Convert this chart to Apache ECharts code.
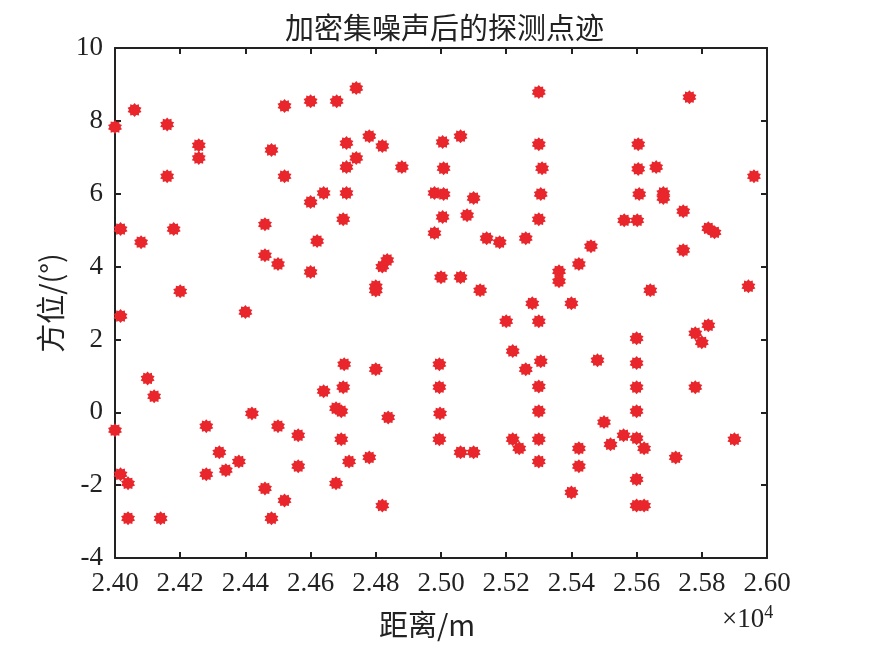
<!DOCTYPE html>
<html>
<head>
<meta charset="utf-8">
<script src="https://cdn.jsdelivr.net/npm/echarts@6/dist/echarts.min.js"></script>
<style>
html, body { margin: 0; padding: 0; background: #fff; }
#main { width: 889px; height: 666px; }
</style>
</head>
<body>
<div id="main"></div>
<script>
// 距离 (m)
var ranges = [
	24000, 24060, 24160, 24257, 24257, 24160, 24017, 24080, 24180, 24200,
	24520, 24600, 24480, 24520, 24640, 24600, 24460, 24620, 24460, 24500,
	24600, 24400, 24017, 24100, 24120, 24000, 24280, 24420, 24500, 24562,
	24640, 24320, 24340, 24380, 24280, 24562, 24017, 24040, 24040, 24140,
	24460, 24520, 24480, 24740, 24680, 24780, 24710, 24820, 24740, 24710,
	24880, 24710, 24700, 24820, 24835, 24800, 24800, 25005, 25060, 25008,
	24980, 25008, 25100, 25005, 25080, 24980, 25140, 25180, 25260, 25300,
	25300, 25310, 25306, 25300, 25000, 25060, 25120, 25280, 25200, 25300,
	25220, 25306, 25260, 25300, 25300, 25220, 25240, 25300, 25300, 24995,
	24995, 24997, 24995, 25060, 25100, 24703, 24800, 24700, 24678, 24694,
	24838, 24694, 24718, 24780, 24678, 24820, 25762, 25605, 25605, 25660,
	25608, 25682, 25682, 25562, 25602, 25743, 25820, 25839, 25960, 25460,
	25423, 25362, 25362, 25743, 25642, 25943, 25400, 25820, 25780, 25800,
	25600, 25480, 25600, 25600, 25780, 25600, 25500, 25560, 25520, 25600,
	25623, 25423, 25423, 25720, 25900, 25600, 25400, 25600, 25623
];
// 方位 (°)
var bearings = [
	7.83, 8.30, 7.90, 7.33, 6.98, 6.48, 5.03, 4.67, 5.03, 3.32,
	8.41, 8.54, 7.20, 6.48, 6.02, 5.77, 5.16, 4.70, 4.31, 4.07,
	3.85, 2.75, 2.64, 0.93, 0.44, -0.49, -0.38, -0.03, -0.38, -0.63,
	0.58, -1.10, -1.59, -1.35, -1.70, -1.48, -1.70, -1.95, -2.91, -2.91,
	-2.09, -2.42, -2.91, 8.90, 8.54, 7.58, 7.39, 7.31, 6.98, 6.73,
	6.73, 6.02, 5.30, 4.00, 4.18, 3.46, 3.34, 7.42, 7.58, 6.70,
	6.02, 5.99, 5.88, 5.36, 5.41, 4.92, 4.78, 4.67, 4.78, 8.79,
	7.36, 6.70, 5.99, 5.30, 3.71, 3.71, 3.35, 2.99, 2.50, 2.50,
	1.68, 1.40, 1.18, 0.71, 0.03, -0.74, -0.99, -0.74, -1.35, 1.32,
	0.69, -0.03, -0.74, -1.10, -1.10, 1.32, 1.18, 0.69, 0.11, 0.03,
	-0.14, -0.74, -1.35, -1.24, -1.95, -2.56, 8.65, 7.36, 6.68, 6.73,
	5.99, 6.02, 5.88, 5.27, 5.27, 5.52, 5.05, 4.94, 6.48, 4.56,
	4.07, 3.87, 3.60, 4.45, 3.35, 3.46, 2.99, 2.39, 2.17, 1.92,
	2.03, 1.43, 1.35, 0.69, 0.69, 0.03, -0.27, -0.63, -0.88, -0.71,
	-0.99, -0.99, -1.48, -1.24, -0.74, -1.84, -2.20, -2.56, -2.56
];
var xTicks = { min: 24000, max: 26000, step: 200 };
var yTicks = { min: -4, max: 10, step: 2 };

var points = [];
for (var i = 0; i < ranges.length; i++) {
	points.push([ranges[i], bearings[i]]);
}

// 星号标记 (MATLAB '*')
function starPath(n, inner) {
	var d = '';
	for (var k = 0; k < n * 2; k++) {
		var r = (k % 2 === 0) ? 1 : inner;
		var a = Math.PI * k / n;
		d += (k === 0 ? 'M' : 'L') + (r * Math.sin(a)).toFixed(3) + ' ' + (-r * Math.cos(a)).toFixed(3);
	}
	return 'path://' + d + 'Z';
}

var serif = 'Liberation Serif';
var cjk = 'Noto Sans CJK SC';
var lineStyle = { color: '#222', width: 2 };

function xAxis(pos, show) {
	return {
		type: 'value', position: pos,
		min: xTicks.min, max: xTicks.max, interval: xTicks.step,
		axisLine: { show: true, onZero: false, lineStyle: lineStyle },
		axisTick: { inside: true, length: 6, lineStyle: lineStyle },
		axisLabel: {
			show: show, margin: 12, color: '#222', fontFamily: serif, fontSize: 27,
			formatter: function (v) { return (v / 10000).toFixed(2); }
		},
		splitLine: { show: false }
	};
}
function yAxis(pos, show) {
	return {
		type: 'value', position: pos,
		min: yTicks.min, max: yTicks.max, interval: yTicks.step,
		axisLine: { show: true, onZero: false, lineStyle: lineStyle },
		axisTick: { inside: true, length: 6, lineStyle: lineStyle },
		axisLabel: { show: show, margin: 12, color: '#222', fontFamily: serif, fontSize: 27 },
		splitLine: { show: false }
	};
}

var xa = xAxis('bottom', true);
xa.name = '距离/m';
xa.nameLocation = 'middle';
xa.nameGap = 52;
xa.nameTextStyle = { color: '#222', fontFamily: cjk, fontSize: 29, padding: [0, 28, 0, 0] };
var ya = yAxis('left', true);
ya.name = '方位/(°)';
ya.nameLocation = 'middle';
ya.nameGap = 46;
ya.nameTextStyle = { color: '#222', fontFamily: cjk, fontSize: 29 };

var chart = echarts.init(document.getElementById('main'));
chart.setOption({
	backgroundColor: '#fff',
	animation: false,
	title: {
		text: '加密集噪声后的探测点迹',
		left: 'center', top: 8,
		textStyle: { color: '#222', fontFamily: cjk, fontSize: 29, fontWeight: 'normal' }
	},
	grid: { left: 115, right: 122, top: 48, bottom: 108 },
	xAxis: [xa, xAxis('top', false)],
	yAxis: [ya, yAxis('right', false)],
	graphic: [{
		type: 'text', left: 722, top: 604,
		style: {
			text: '×10{s|4}', fill: '#222', font: '27px "Liberation Serif"',
			rich: { s: { fontSize: 18, fontFamily: serif, fill: '#222', verticalAlign: 'top', padding: [0, 0, 14, 0] } }
		}
	}],
	series: [{
		type: 'scatter',
		xAxisIndex: 0, yAxisIndex: 0,
		data: points,
		symbol: starPath(10, 0.75),
		symbolSize: 14,
		itemStyle: { color: '#e8262b', opacity: 1 }
	}]
});
</script>
</body>
</html>
